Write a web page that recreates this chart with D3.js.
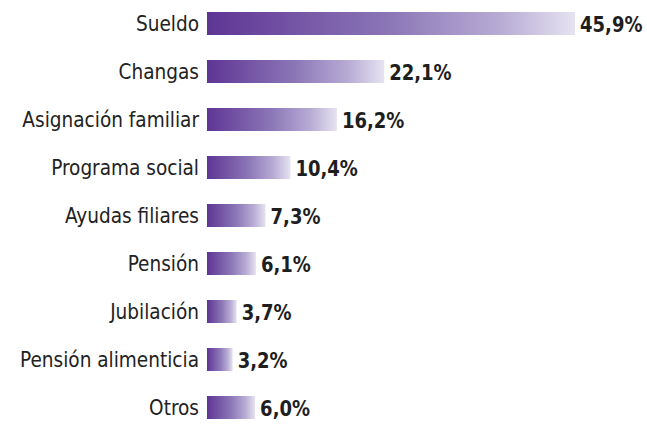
<!DOCTYPE html>
<html><head><meta charset="utf-8">
<script src="https://cdn.jsdelivr.net/npm/d3@7"></script>
<style>html,body{margin:0;padding:0;background:#fff;}</style>
</head><body>
<svg id="chart" width="647" height="425"></svg>
<script>
const categories = ["Sueldo","Changas","Asignación familiar","Programa social","Ayudas filiares","Pensión","Jubilación","Pensión alimenticia","Otros"];
const values = [45.9,22.1,16.2,10.4,7.3,6.1,3.7,3.2,6.0];
const valueLabels = ["45,9%","22,1%","16,2%","10,4%","7,3%","6,1%","3,7%","3,2%","6,0%"];

const svg = d3.select("#chart");
const x0 = 207;
const x = d3.scaleLinear().domain([0,45.9]).range([x0, 575]);
const y = d3.scaleBand().domain(categories).range([-0.5, 431.5]).paddingInner(25/48).paddingOuter(12.5/48);

const defs = svg.append("defs");
const grad = defs.append("linearGradient").attr("id","g").attr("x1","0").attr("x2","1").attr("y1","0").attr("y2","0");
grad.append("stop").attr("offset","0").attr("stop-color","#5e3594");
grad.append("stop").attr("offset","0.5").attr("stop-color","#8c77b7");
grad.append("stop").attr("offset","0.8").attr("stop-color","#b8acd5");
grad.append("stop").attr("offset","1").attr("stop-color","#e6e3f1");

const data = categories.map((c,i)=>({c, v:values[i], l:valueLabels[i]}));

svg.selectAll("rect.bar").data(data).join("rect").attr("class","bar")
  .attr("x", x0).attr("y", d=>y(d.c)).attr("width", d=>x(d.v)-x0).attr("height", y.bandwidth())
  .attr("fill","url(#g)");

const font = "'Liberation Sans Narrow','DejaVu Sans Condensed',sans-serif";

svg.selectAll("text.cat").data(data).join("text").attr("class","cat")
  .attr("transform", d=>`translate(199,${y(d.c)+y.bandwidth()/2+7}) scale(0.935,1)`)
  .attr("text-anchor","end")
  .style("font-family",font)
  .style("font-size","22px").attr("fill","#222")
  .text(d=>d.c);

svg.selectAll("text.val").data(data).join("text").attr("class","val")
  .attr("transform", d=>`translate(${x(d.v)+5},${y(d.c)+y.bandwidth()/2+8}) scale(0.91,1)`)
  .style("font-family",font)
  .style("font-size","22px").style("font-weight","bold").attr("fill","#1e1e1e")
  .text(d=>d.l);
</script>
</body></html>
